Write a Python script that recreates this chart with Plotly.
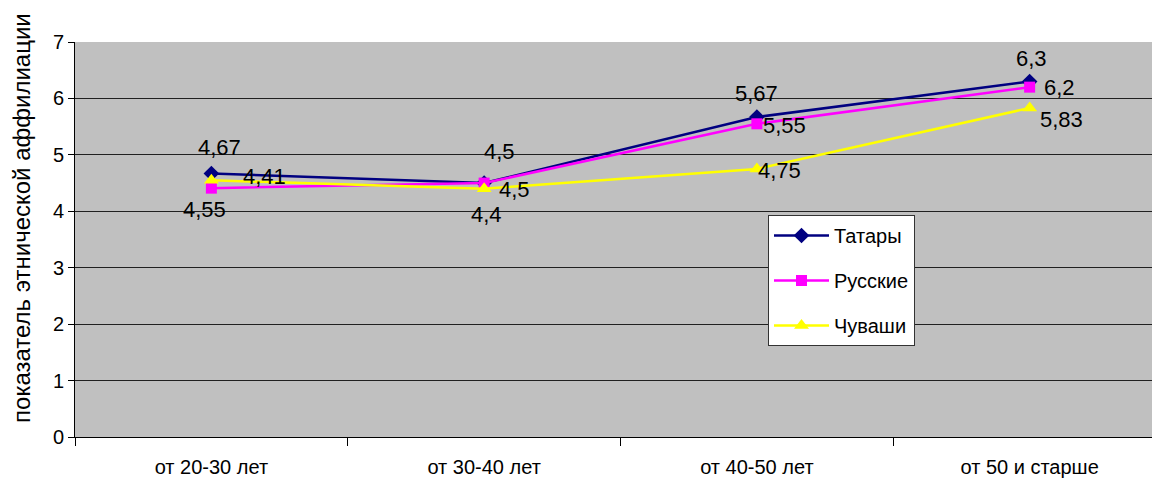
import plotly.graph_objects as go

categories = ["от 20-30 лет", "от 30-40 лет", "от 40-50 лет", "от 50 и старше"]
tatars = [4.67, 4.5, 5.67, 6.3]
russians = [4.41, 4.5, 5.55, 6.2]
chuvash = [4.55, 4.4, 4.75, 5.83]
series_names = ["Татары", "Русские", "Чуваши"]
y_title = "показатель этнической аффилиации"

def fmt(v):
    return ("%g" % v).replace(".", ",")

FONT = "Liberation Sans, Arial, sans-serif"
fig = go.Figure()

# style: colour, marker, label pixel offsets (dx, dy) per point
specs = [
    (series_names[0], tatars, "#000080", "diamond", 12,
     [(8, 26), (15, 32), (0, 24), (2, 23)]),
    (series_names[1], russians, "#FF00FF", "square", 11,
     [(53, 12), (30, -6), (28, -2), (30, 0)]),
    (series_names[2], chuvash, "#FFFF00", "triangle-up", 13,
     [(-7, -29), (2, -26), (23, -2), (32, -11)]),
]
for name, vals, color, sym, size, offs in specs:
    fig.add_trace(go.Scatter(
        x=categories, y=vals, name=name, mode="lines+markers",
        line=dict(color=color, width=2.5),
        marker=dict(color=color, symbol=sym, size=size),
        legendgroup=name, cliponaxis=False,
    ))
    for c, v, (dx, dy) in zip(categories, vals, offs):
        fig.add_annotation(
            x=c, y=v, xref="x", yref="y", text=fmt(v), showarrow=False,
            xshift=dx, yshift=dy, xanchor="center", yanchor="middle",
            font=dict(family=FONT, size=22, color="black"),
        )

fig.add_annotation(
    text=y_title, textangle=-90, xref="paper", yref="paper",
    x=-0.0498, y=(429 - 417) / 395, xanchor="center", yanchor="bottom",
    showarrow=False, font=dict(family=FONT, size=24, color="black"),
)

fig.update_layout(
    width=1152, height=477,
    margin=dict(l=67, r=0, t=34, b=48, autoexpand=False),
    paper_bgcolor="white", plot_bgcolor="#C0C0C0",
    showlegend=True,
    legend=dict(
        x=(760 - 67) / 1085, y=(429 - 207) / 395, xanchor="left", yanchor="top",
        bgcolor="white", bordercolor="#333333", borderwidth=1,
        font=dict(family=FONT, size=20, color="black"),
        traceorder="grouped", tracegroupgap=16, itemwidth=55,
    ),
    xaxis=dict(
        type="category", range=[-0.5, 3.478], tickson="boundaries",
        ticks="outside", ticklen=8, tickcolor="black", automargin=False,
        ticklabelstandoff=12,
        showline=True, linecolor="black", linewidth=1, showgrid=False,
        tickfont=dict(family=FONT, size=20, color="black"), zeroline=False,
    ),
    yaxis=dict(
        range=[0, 7], dtick=1, ticks="outside", ticklen=6, tickcolor="black",
        showline=True, linecolor="black", linewidth=1, automargin=False,
        showgrid=True, gridcolor="#202020", gridwidth=1,
        tickfont=dict(family=FONT, size=20, color="black"), zeroline=False,
    ),
)

fig.write_html("out.html")
